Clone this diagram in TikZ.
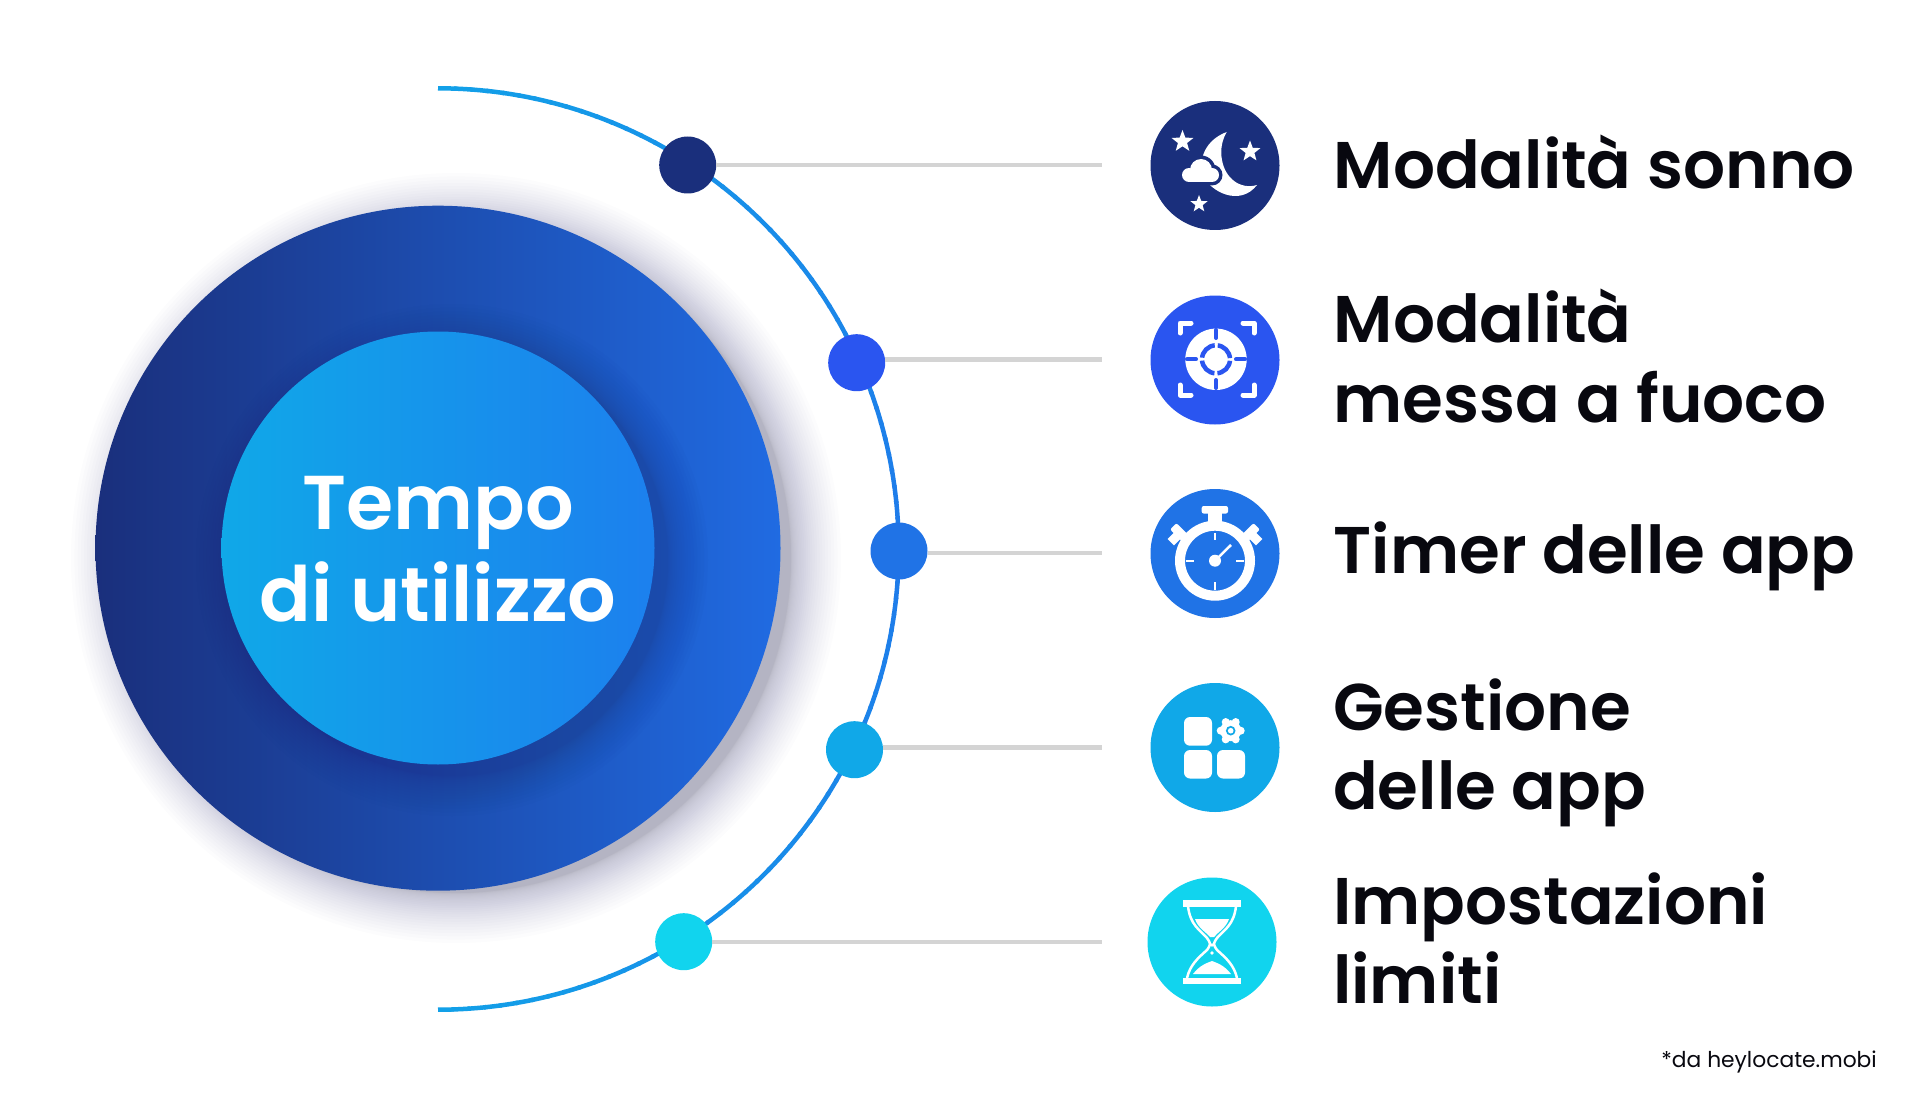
\documentclass[tikz,border=0pt]{standalone}
\usepackage{fontspec}
\setmainfont{Poppins}[UprightFont=* SemiBold,BoldFont=* SemiBold]
\newfontfamily\popreg{Poppins}
\usetikzlibrary{calc}
\definecolor{cNavy}{HTML}{1A2F7C}
\definecolor{cBlue}{HTML}{2A55F0}
\definecolor{cMid}{HTML}{2073E6}
\definecolor{cSky}{HTML}{10A8E8}
\definecolor{cCyan}{HTML}{11D4EE}
\definecolor{cArcEnd}{HTML}{12A0E8}
\definecolor{cArcMid}{HTML}{1F7AEA}
\definecolor{cLine}{HTML}{D4D4D4}
\definecolor{cInk}{HTML}{08080F}
\definecolor{cBigR}{HTML}{206BE2}
\definecolor{cCoreR}{HTML}{1C80EE}
\definecolor{cShadow}{HTML}{2A2A60}
\pgfdeclarehorizontalshading{bigshade}{100bp}{color(0bp)=(cNavy);color(25bp)=(cNavy);color(75bp)=(cBigR);color(100bp)=(cBigR)}
\pgfdeclarehorizontalshading{smallshade}{100bp}{color(0bp)=(cSky);color(25bp)=(cSky);color(75bp)=(cCoreR);color(100bp)=(cCoreR)}
\tikzset{
  dotnode/.style={circle,minimum size=57pt,inner sep=0pt,fill=#1},
  iconnode/.style={circle,minimum size=129pt,inner sep=0pt,fill=#1},
  leader/.style={draw=cLine,line width=4.5pt},
  label/.style={anchor=west,align=left,font=\fontsize{66}{79.5}\selectfont,text=cInk,inner sep=0pt},
}
\newcommand{\fivestar}[3]{\fill[white] ($(#1,#2)+(-90:#3)$) -- ($(#1,#2)+(-54:#3*0.42)$) -- ($(#1,#2)+(-18:#3)$) -- ($(#1,#2)+(18:#3*0.42)$)
  -- ($(#1,#2)+(54:#3)$) -- ($(#1,#2)+(90:#3*0.42)$) -- ($(#1,#2)+(126:#3)$) -- ($(#1,#2)+(162:#3*0.42)$)
  -- ($(#1,#2)+(198:#3)$) -- ($(#1,#2)+(234:#3*0.42)$) -- cycle;}
\begin{document}
\begin{tikzpicture}[x=1pt,y=-1pt]
\useasboundingbox (0,0) rectangle (1920,1102);
\fill[white] (0,0) rectangle (1920,1102);
% shadow of big circle: layers get denser towards the disc
\foreach \i in {0,1,...,29}{
  \pgfmathsetmacro{\r}{335+50*(\i/29)^2}
  \fill[cShadow,opacity=0.011] (456,558) circle[radius=\r];
}
% big circle
\node[circle,minimum size=685pt,inner sep=0pt,shading=bigshade] (big) at (438,548.2) {};
\begin{scope}
\clip (438,548.2) circle[radius=342.5];
\foreach \i in {0,1,...,17}{
  \pgfmathsetmacro{\r}{216+40*(\i/17)^1.6}
  \fill[cNavy,opacity=0.022] (452,560) circle[radius=\r];
}
\end{scope}
\node[circle,minimum size=433pt,inner sep=0pt,shading=smallshade] (core) at (438,548) {};
\node[align=center,text=white,font=\fontsize{76.3}{92}\selectfont,inner sep=0] (title) at (438,549.5) {Tempo\\di utilizzo};
% arc, coloured from the ends to the middle
\foreach \a [evaluate=\a as \m using {100*abs(\a+1)/90}] in {-90,-88,...,86}{
  \colorlet{segc}{cArcEnd!\m!cArcMid}
  \draw[segc,line width=4.5pt] (438,549)++(\a:460.7) arc[start angle=\a,end angle=\a+2.3,radius=460.7];
}
\draw[cArcEnd,line width=4.5pt] (438,549)++(88:460.7) arc[start angle=88,end angle=90,radius=460.7];
% icons
\node[iconnode=cNavy] (i1) at (1215,165.5) {};
\node[iconnode=cBlue] (i2) at (1215,360) {};
\node[iconnode=cMid] (i3) at (1215,553.5) {};
\node[iconnode=cSky] (i4) at (1215,747.5) {};
\node[iconnode=cCyan] (i5) at (1212,942) {};
% leaders and dots
\coordinate (e1) at (1102,165);
\coordinate (e2) at (1102,359.3);
\coordinate (e3) at (1102,553);
\coordinate (e4) at (1102,747.7);
\coordinate (e5) at (1102,942);
\node[dotnode=cNavy] (d1) at (687.7,165) {};
\node[dotnode=cBlue] (d2) at (856.7,362.7) {};
\node[dotnode=cMid] (d3) at (899,551) {};
\node[dotnode=cSky] (d4) at (854.5,749.7) {};
\node[dotnode=cCyan] (d5) at (683.7,941.7) {};
\draw[leader] (d1.east |- e1) -- (e1);
\draw[leader] (d2.east |- e2) -- (e2);
\draw[leader] (d3.east |- e3) -- (e3);
\draw[leader] (d4.east |- e4) -- (e4);
\draw[leader] (d5.east |- e5) -- (e5);
% labels
\node[label] (t1) at (1333.5,162) {Modalità sonno};
\node[label] (t2) at (1333.5,356) {Modalità\\messa a fuoco};
\node[label] (t3) at (1333.5,556) {Timer delle app};
\node[label] (t4) at (1333,753) {Gestione\\delle app};
\node[label] (t5) at (1333,938) {Impostazioni\\limiti};
\node[anchor=east,text=cInk,inner sep=0pt,font=\popreg\fontsize{21.8}{28}\selectfont] (note) at (1877,1062.5) {*da heylocate.mobi};
% ---- icon 1: moon, cloud, stars
\fill[white] (1226.7,132) .. controls (1205,140) and (1198,160) .. (1203,175)
  .. controls (1210,192) and (1240,207) .. (1257,185)
  .. controls (1240,190) and (1225,178) .. (1222,160)
  .. controls (1220,150) and (1222,140) .. (1226.7,132) -- cycle;
\foreach \cx/\cy/\cr in {1189/175/7,1201/170/11,1212/175/7}{
  \fill[cNavy] (\cx,\cy) circle[radius=\cr+3.5];
}
\fill[cNavy] (1189,175) rectangle (1212,185.5);
\foreach \cx/\cy/\cr in {1189/175/7,1201/170/11,1212/175/7}{
  \fill[white] (\cx,\cy) circle[radius=\cr];
}
\fill[white] (1189,172) rectangle (1212,182);
\fivestar{1182.5}{141.5}{11.5}
\fivestar{1250}{151.5}{11}
\fivestar{1199}{204}{9}
% ---- icon 2: target
\fill[white] (1216,359.3) circle[radius=30.7];
\draw[cBlue,line width=4.5pt,dash pattern=on 19pt off 2.99pt,dash phase=20.5pt] (1216,359.3) circle[radius=14];
\draw[cBlue,line width=4pt,line cap=round] (1216,330) -- (1216,338) (1216,380) -- (1216,388) (1187,359.3) -- (1196,359.3) (1236,359.3) -- (1245,359.3);
\draw[white,line width=5pt,line cap=round,line join=round]
 (1191,323) -- (1180,323) -- (1180,333)
 (1243,323) -- (1254,323) -- (1254,333)
 (1180,385) -- (1180,395) -- (1191,395)
 (1254,385) -- (1254,395) -- (1243,395);
% ---- icon 3: stopwatch
\draw[white,line width=10pt] (1215,560.7) circle[radius=35];
\fill[white,rounded corners=2pt] (1201.7,506) rectangle (1228,513.5);
\fill[white] (1208,512) rectangle (1222,530);
\begin{scope}[shift={(1180,533)},rotate=-45]
\fill[white,rounded corners=2pt] (-9.5,-4.5) rectangle (9.5,4.5); \fill[white] (-4.5,0) rectangle (4.5,13);
\end{scope}
\begin{scope}[shift={(1250,533)},rotate=45]
\fill[white,rounded corners=2pt] (-9.5,-4.5) rectangle (9.5,4.5); \fill[white] (-4.5,0) rectangle (4.5,13);
\end{scope}
\draw[white,line width=1.8pt] (1215,533) -- (1215,540) (1215,582) -- (1215,590) (1186,560.7) -- (1194,560.7) (1236,560.7) -- (1244,560.7);
\fill[white] (1215,560.7) circle[radius=6];
\draw[white,line width=2.5pt] (1215,560.7) -- (1231,545);
% ---- icon 4: apps
\fill[white,rounded corners=6pt] (1184,717) rectangle (1212,745.7);
\fill[white,rounded corners=6pt] (1184,750) rectangle (1212,778.5);
\fill[white,rounded corners=6pt] (1217,750) rectangle (1245,778.5);
\foreach \a in {0,60,...,300}{\fill[white] (1230.7,730.7) ++(\a:10) circle[radius=4];}
\fill[white] (1230.7,730.7) circle[radius=10.5];
\fill[cSky] (1230.7,730.7) circle[radius=4.8];
\fill[white] (1230.7,730.7) circle[radius=2.8];
% ---- icon 5: hourglass
\fill[white] (1183,900) rectangle (1241,906.7);
\fill[white] (1183,977.5) rectangle (1241,984);
\draw[white,line width=2.5pt] (1188,906) .. controls (1190,925) and (1200,930) .. (1207,938)
  .. controls (1211,944) and (1211,944) .. (1207,950)
  .. controls (1198,958) and (1190,965) .. (1187,978);
\draw[white,line width=2.5pt] (1236,906) .. controls (1234,925) and (1224,930) .. (1217,938)
  .. controls (1213,944) and (1213,944) .. (1217,950)
  .. controls (1226,958) and (1234,965) .. (1237,978);
\fill[white] (1195,919) -- (1229,919) .. controls (1226,928) and (1218,932) .. (1214,937) -- (1210,937) .. controls (1206,932) and (1198,928) .. (1195,919) -- cycle;
\fill[white] (1193,974) .. controls (1200,965) and (1207,963) .. (1212,961) .. controls (1217,963) and (1224,965) .. (1231,974) -- cycle;
\fill[white] (1212,945) circle[radius=1.8] (1212,953) circle[radius=1.8];
\end{tikzpicture}
\end{document}
